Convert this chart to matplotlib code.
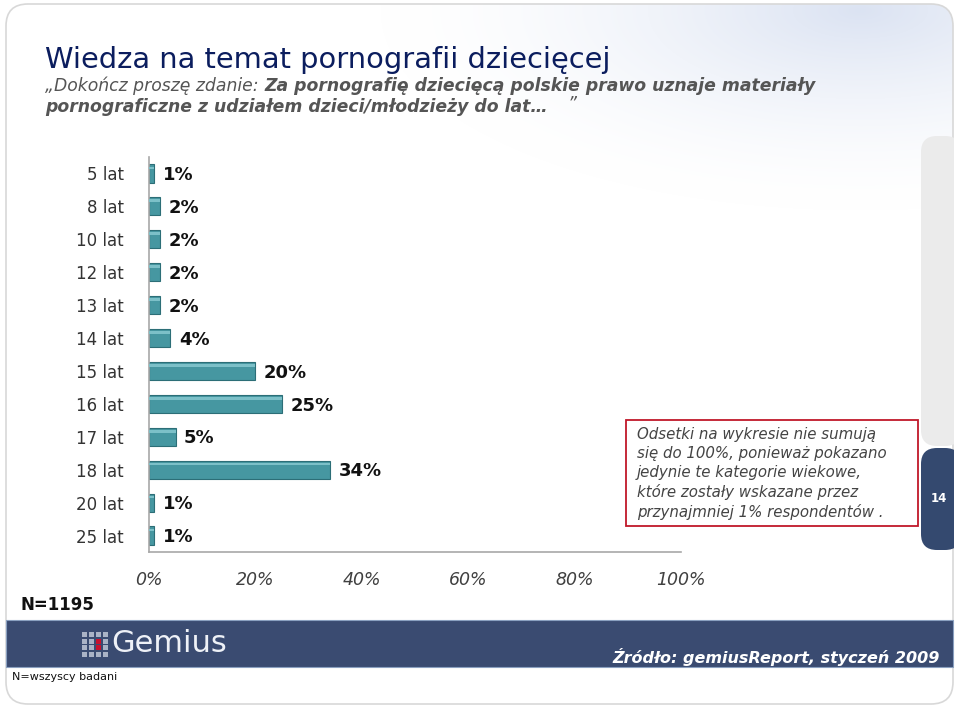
import numpy as np
import matplotlib
matplotlib.use("Agg")
import matplotlib.pyplot as plt
from matplotlib.patches import FancyBboxPatch, Rectangle

# data
categories = ["5 lat", "8 lat", "10 lat", "12 lat", "13 lat", "14 lat",
              "15 lat", "16 lat", "17 lat", "18 lat", "20 lat", "25 lat"]
values = [1, 2, 2, 2, 2, 4, 20, 25, 5, 34, 1, 1]
xticks = [0, 20, 40, 60, 80, 100]
xtick_labels = ["0%", "20%", "40%", "60%", "80%", "100%"]

title = "Wiedza na temat pornografii dziecięcej"
sub_plain = "„Dokończ proszę zdanie: "
sub_bold1 = "Za pornografię dziecięcą polskie prawo uznaje materiały"
sub_bold2 = "pornograficzne z udziałem dzieci/młodzieży do lat… "
note_lines = ["Odsetki na wykresie nie sumują",
              "się do 100%, ponieważ pokazano",
              "jedynie te kategorie wiekowe,",
              "które zostały wskazane przez",
              "przynajmniej 1% respondentów ."]

W, H = 959, 709
fig = plt.figure(figsize=(W / 100, H / 100), dpi=100)

# background with soft bluish glow top-right
bg = fig.add_axes([0, 0, 1, 1])
bg.set_xlim(0, W)
bg.set_ylim(H, 0)
bg.axis("off")
frame = FancyBboxPatch((6, 4), 947, 700, boxstyle="round,pad=0,rounding_size=22",
                       fill=False, ec="#d8d8d8", lw=1.2, zorder=1)
bg.add_patch(frame)
yy, xx = np.mgrid[0:H, 0:W]
d = np.sqrt(((xx - 860) / 480.0) ** 2 + ((yy - 10) / 200.0) ** 2)
t = np.clip(1 - d, 0, 1) ** 1.6
tint = np.array([0.86, 0.89, 0.95])
img = 1 - t[..., None] * (1 - tint[None, None, :])
im = bg.imshow(img, extent=[0, W, H, 0], aspect="auto", zorder=0)
im.set_clip_path(frame)

# side tabs
bg.add_patch(FancyBboxPatch((921, 136), 40, 310, boxstyle="round,pad=0,rounding_size=16",
                            fc="#ebebeb", ec="none", zorder=1))
bg.add_patch(FancyBboxPatch((921, 448), 40, 102, boxstyle="round,pad=0,rounding_size=16",
                            fc="#34496f", ec="none", zorder=1))
bg.add_patch(Rectangle((954, 130), 6, 430, fc="white", ec="none", zorder=1))
bg.text(939, 499, "14", color="white", fontsize=8.5, fontweight="bold",
        ha="center", va="center", zorder=2)

# footer band
bg.add_patch(Rectangle((6, 620), 947, 47, fc="#3a4b71", ec="#8aa0c0", lw=0.8, zorder=1))
# logo dots
for i in range(4):
    for j in range(4):
        c = "#c8102e" if (i == 2 and j in (1, 2)) else "#aab3c6"
        bg.add_patch(Rectangle((82 + i * 7, 632 + j * 6.5), 5, 5, fc=c, ec="none", zorder=2))
bg.text(111, 644, "Gemius", color="#eef1f7", fontsize=22, ha="left", va="center", zorder=2)
bg.text(940, 657, "Źródło: gemiusReport, styczeń 2009", color="white", fontsize=11.5,
        fontweight="bold", style="italic", ha="right", va="center", zorder=2)

bg.text(20, 605, "N=1195", color="#111111", fontsize=12, fontweight="bold",
        ha="left", va="center", zorder=2)
bg.text(12, 677, "N=wszyscy badani", color="#111111", fontsize=8, ha="left",
        va="center", zorder=2)

# title & subtitle
bg.text(45, 60, title, color="#0b1d5e", fontsize=20.8, family="DejaVu Sans",
        ha="left", va="center", zorder=2)
sfs = 12.4
t1 = bg.text(45, 86, sub_plain, color="#555555", fontsize=sfs, style="italic",
             ha="left", va="center", zorder=2)
fig.canvas.draw()
ext = t1.get_window_extent()
bg.text(45 + ext.width, 86, sub_bold1, color="#555555", fontsize=sfs, style="italic",
        fontweight="bold", ha="left", va="center", zorder=2)
t2 = bg.text(45, 107, sub_bold2, color="#555555", fontsize=sfs, style="italic",
             fontweight="bold", ha="left", va="center", zorder=2)
ext2 = t2.get_window_extent()
bg.text(45 + ext2.width + 14, 104, "”", color="#555555", fontsize=sfs, style="italic",
        ha="left", va="center", zorder=2)

# note box
bg.add_patch(Rectangle((626, 420), 292, 106, fc="white", ec="#c0182a", lw=1.3, zorder=2))
for k, line in enumerate(note_lines):
    bg.text(637, 434 + k * 19.5, line, color="#444444", fontsize=10.8, style="italic",
            ha="left", va="center", zorder=3)

# chart
ax = fig.add_axes([149 / W, 1 - 552 / H, 532 / W, 395 / H])
ax.patch.set_alpha(0)
y = np.arange(len(categories))
ax.barh(y, values, height=0.55, color="#4697a1", edgecolor="#2c6e77", lw=0.8, zorder=2)
ax.barh(y - 0.17, values, height=0.08, color="#7cc0c8", edgecolor="none", zorder=3)
for yi, v in zip(y, values):
    ax.text(v + 1.6, yi + 0.05, f"{v}%", fontsize=13, fontweight="bold", color="#111111",
            ha="left", va="center")
ax.set_xlim(0, 100)
ax.set_ylim(len(categories) - 0.5, -0.5)
ax.set_yticks(y)
ax.set_yticklabels(categories, fontsize=12, color="#333333")
ax.set_xticks(xticks)
ax.set_xticklabels(xtick_labels, fontsize=12.5, style="italic", color="#404040")
ax.tick_params(axis="y", length=0, pad=18)
ax.tick_params(axis="x", length=0, pad=14)
for s in ["top", "right"]:
    ax.spines[s].set_visible(False)
for s in ["left", "bottom"]:
    ax.spines[s].set_color("#a8a8a8")
    ax.spines[s].set_linewidth(1.2)

fig.savefig("out.png", dpi=100)
